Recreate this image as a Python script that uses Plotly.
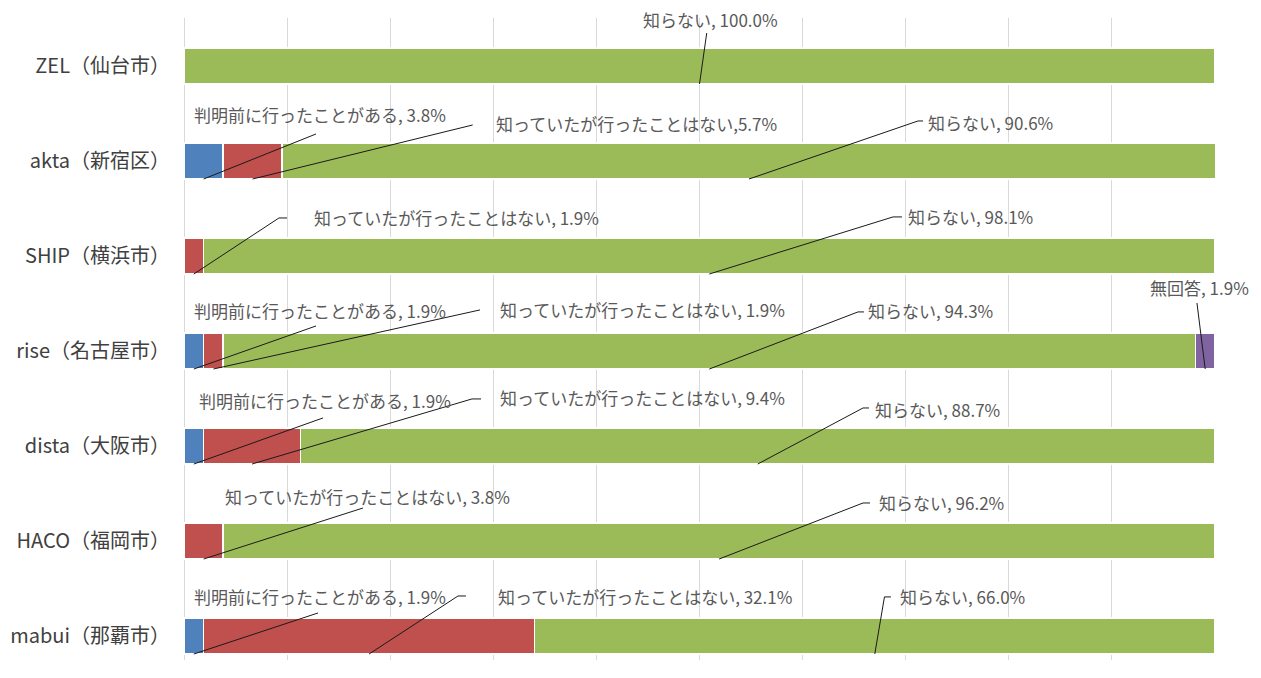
import plotly.graph_objects as go

# ---- data ----
categories = ["ZEL（仙台市）", "akta（新宿区）", "SHIP（横浜市）", "rise（名古屋市）",
              "dista（大阪市）", "HACO（福岡市）", "mabui（那覇市）"]
series_names = ["判明前に行ったことがある", "知っていたが行ったことはない", "知らない", "無回答"]
visited = [0, 3.8, 0, 1.9, 1.9, 0, 1.9]
knew = [0, 5.7, 1.9, 1.9, 9.4, 3.8, 32.1]
unknown = [100.0, 90.6, 98.1, 94.3, 88.7, 96.2, 66.0]
no_answer = [0, 0, 0, 1.9, 0, 0, 0]

# ---- styles ----
colors = ["#4F81BD", "#C0504D", "#9BBB59", "#8064A2"]
FONT = "Noto Sans CJK JP"
BAR_W = 0.38

series_values = [visited, knew, unknown, no_answer]
rows = list(range(len(categories)))

# label placement (row, series, text-left x, text y, leader elbow points) in data units
label_layout = [
    (0, 2, 44.3, -0.49, [(50.7, -0.347)], ", "),
    (1, 0, 0.78, 0.516, [(12.8, 0.716)], ", "),
    (1, 1, 30.07, 0.61, [(28.0, 0.621)], ","),
    (1, 2, 71.97, 0.60, [(71.19, 0.579), (71.68, 0.579)], ", "),
    (2, 1, 12.42, 1.60, [(9.21, 1.60), (9.99, 1.60)], ", "),
    (2, 2, 70.03, 1.589, [(68.77, 1.589), (69.64, 1.589)], ", "),
    (3, 0, 0.78, 2.579, [(12.8, 2.737)], ", "),
    (3, 1, 30.46, 2.568, [(28.71, 2.568)], ", "),
    (3, 2, 66.15, 2.579, [(65.37, 2.589), (65.95, 2.589)], ", "),
    (3, 3, 93.5, 2.337, [(98.25, 2.495)], ", "),
    (4, 0, 1.26, 3.526, [(13.48, 3.705)], ", "),
    (4, 1, 30.46, 3.495, [(27.93, 3.505), (28.81, 3.505)], ", "),
    (4, 2, 66.83, 3.611, [(65.86, 3.60), (66.44, 3.60)], ", "),
    (5, 1, 3.78, 4.537, [(17.36, 4.653)], ", "),
    (5, 2, 67.22, 4.60, [(65.86, 4.60), (66.54, 4.60)], ", "),
    (6, 0, 0.78, 5.589, [(13.0, 5.758)], ", "),
    (6, 1, 30.26, 5.589, [(26.58, 5.579), (27.35, 5.579)], ", "),
    (6, 2, 69.25, 5.589, [(67.94, 5.589), (68.57, 5.589)], ", "),
]

fig = go.Figure()
for name, vals, col in zip(series_names, series_values, colors):
    fig.add_trace(go.Bar(
        y=rows, x=[v if v else None for v in vals], name=name, orientation="h",
        width=BAR_W, marker=dict(color=col, line=dict(color="white", width=1.5)),
        showlegend=False, hoverinfo="skip",
    ))

# leader lines + labels
lx, ly = [], []
annotations = []
for row, s, tx, ty, elbows, sep in label_layout:
    cum = sum(series_values[k][row] for k in range(s))
    v = series_values[s][row]
    ax_x = cum + v / 2
    ax_y = row + BAR_W / 2
    lx += [ax_x] + [p[0] for p in elbows] + [None]
    ly += [ax_y] + [p[1] for p in elbows] + [None]
    annotations.append(dict(
        x=ax_x, y=ax_y, xref="x", yref="y", axref="x", ayref="y", ax=tx, ay=ty,
        showarrow=True, arrowcolor="rgba(0,0,0,0)", arrowwidth=0.1, arrowhead=0,
        text=f"{series_names[s]}{sep}{v:.1f}%", xanchor="left", yanchor="middle",
        font=dict(family=FONT, size=17, color="#595959"),
    ))

fig.add_trace(go.Scatter(x=lx, y=ly, mode="lines", line=dict(color="#1a1a1a", width=1),
                         showlegend=False, hoverinfo="skip", cliponaxis=False))

fig.update_layout(
    width=1245, height=662, barmode="stack",
    margin=dict(l=176, r=38, t=10, b=10),
    plot_bgcolor="white", paper_bgcolor="white",
    annotations=annotations,
    font=dict(family=FONT),
)
fig.update_xaxes(range=[0, 100], dtick=10, showgrid=True, gridcolor="#D9D9D9", gridwidth=1,
                 zeroline=True, zerolinecolor="#D9D9D9", zerolinewidth=1,
                 showticklabels=False, showline=False, automargin=False)
fig.update_yaxes(range=[6.253, -0.505], tickmode="array", tickvals=rows, ticktext=categories,
                 showgrid=False, zeroline=False, showline=False, ticklabelstandoff=13,
                 automargin=False,
                 tickfont=dict(family=FONT, size=20, color="#404040"))

fig.write_html("out.html")
